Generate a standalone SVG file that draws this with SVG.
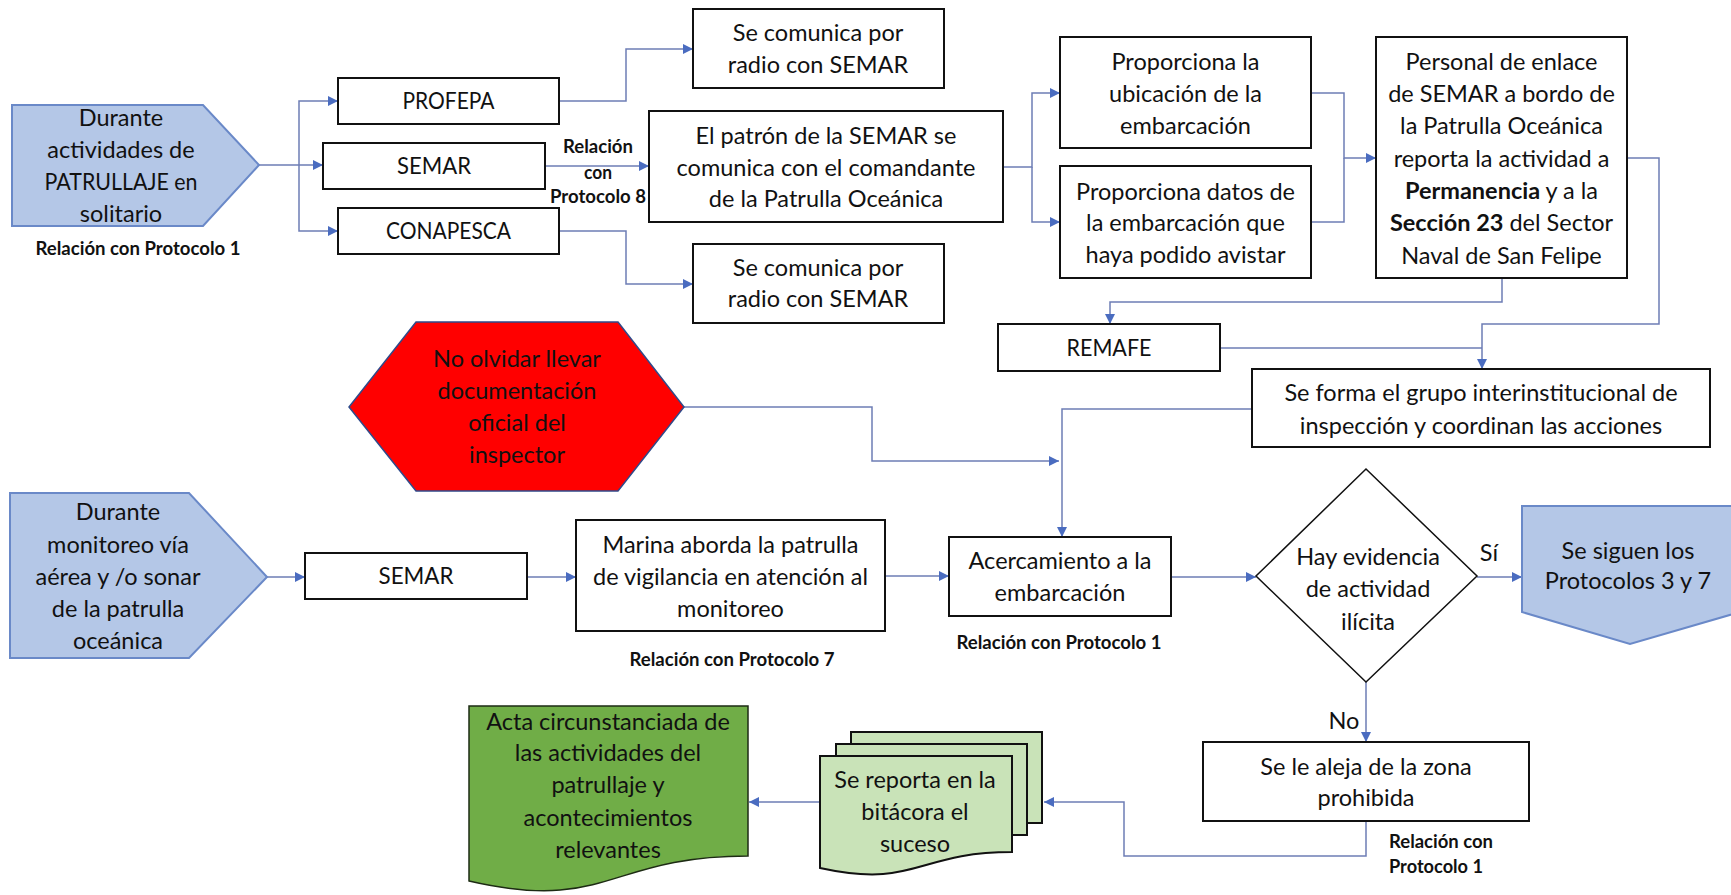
<svg xmlns="http://www.w3.org/2000/svg" width="1731" height="895" viewBox="0 0 1731 895">
<style>
.t{font-family:Lato,Carlito,"Liberation Sans",sans-serif;font-size:23.5px;fill:#111;text-anchor:middle}
.lb{font-family:Lato,Carlito,"Liberation Sans",sans-serif;font-size:19px;font-weight:bold;fill:#111;text-anchor:middle}
.box{fill:#fff;stroke:#111;stroke-width:2}
.blue{fill:#b4c7e7;stroke:#6a89c8;stroke-width:2}
.c{fill:none;stroke:#6d7db5;stroke-width:1.5}
.ca{fill:none;stroke:#6d7db5;stroke-width:1.5;marker-end:url(#ar)}
</style>
<defs>
<marker id="ar" markerUnits="userSpaceOnUse" markerWidth="11" markerHeight="10" refX="10" refY="5" orient="auto">
<path d="M0,0 L10,5 L0,10 z" fill="#4a6cc0"/>
</marker>
</defs>
<rect width="1731" height="895" fill="#fff"/>

<g id="connectors">
<path class="ca" d="M259,165 H323"/>
<path class="ca" d="M299,165 V101 H338"/>
<path class="ca" d="M299,165 V231 H338"/>
<path class="ca" d="M559,101 H626 V49 H693"/>
<path class="ca" d="M559,231 H626 V284 H693"/>
<path class="ca" d="M545,166 H649"/>
<path class="ca" d="M1003,167 H1032 V93 H1060"/>
<path class="ca" d="M1032,167 V222 H1060"/>
<path class="ca" d="M1311,93 H1344 V158 H1376"/>
<path class="c" d="M1311,222 H1344 V158"/>
<path class="ca" d="M1502,278 V302 H1110 V324"/>
<path class="ca" d="M1627,158 H1659 V324 H1482 V369"/>
<path class="c" d="M1220,348 H1482"/>
<path class="ca" d="M1252,409 H1062 V537"/>
<path class="ca" d="M684,407 H872 V461 H1059"/>
<path class="ca" d="M267,577 H305"/>
<path class="ca" d="M527,577 H576"/>
<path class="ca" d="M885,576 H949"/>
<path class="ca" d="M1171,577 H1256"/>
<path class="ca" d="M1477,577 H1522"/>
<path class="ca" d="M1366,682 V742"/>
<path class="ca" d="M1366,821 V856 H1124 V802 H1044"/>
<path class="ca" d="M820,802 H749"/>
</g>

<g id="start1">
<path class="blue" d="M12,105 H203 L259,165 L203,226 H12 Z"/>
<text class="t" x="121" y="126">Durante</text>
<text class="t" x="121" y="158">actividades de</text>
<text class="t" x="121" y="190" textLength="153" lengthAdjust="spacingAndGlyphs">PATRULLAJE en</text>
<text class="t" x="121" y="222">solitario</text>
</g>
<text id="lbl-p1a" class="lb" x="138" y="255" textLength="205" lengthAdjust="spacingAndGlyphs">Relación con Protocolo 1</text>

<g id="profepa">
<rect class="box" x="338" y="78" width="221" height="46"/>
<text class="t" x="448.5" y="109" textLength="92" lengthAdjust="spacingAndGlyphs">PROFEPA</text>
</g>
<g id="semar1">
<rect class="box" x="323" y="143" width="222" height="46"/>
<text class="t" x="434" y="174" textLength="74" lengthAdjust="spacingAndGlyphs">SEMAR</text>
</g>
<g id="conapesca">
<rect class="box" x="338" y="208" width="221" height="46"/>
<text class="t" x="448.5" y="239" textLength="125" lengthAdjust="spacingAndGlyphs">CONAPESCA</text>
</g>
<g id="lbl-p8">
<text class="lb" x="598" y="153" textLength="70" lengthAdjust="spacingAndGlyphs">Relación</text>
<text class="lb" x="598" y="179" textLength="28" lengthAdjust="spacingAndGlyphs">con</text>
<text class="lb" x="598" y="203" textLength="96" lengthAdjust="spacingAndGlyphs">Protocolo 8</text>
</g>

<g id="radio1">
<rect class="box" x="693" y="9" width="251" height="79"/>
<text class="t" x="818" y="41">Se comunica por</text>
<text class="t" x="818" y="73">radio con SEMAR</text>
</g>
<g id="patron">
<rect class="box" x="649" y="111" width="354" height="111"/>
<text class="t" x="826" y="144">El patrón de la SEMAR se</text>
<text class="t" x="826" y="176">comunica con el comandante</text>
<text class="t" x="826" y="207">de la Patrulla Oceánica</text>
</g>
<g id="radio2">
<rect class="box" x="693" y="244" width="251" height="79"/>
<text class="t" x="818" y="276">Se comunica por</text>
<text class="t" x="818" y="307">radio con SEMAR</text>
</g>

<g id="ubicacion">
<rect class="box" x="1060" y="37" width="251" height="111"/>
<text class="t" x="1185.5" y="70">Proporciona la</text>
<text class="t" x="1185.5" y="102">ubicación de la</text>
<text class="t" x="1185.5" y="134">embarcación</text>
</g>
<g id="datos">
<rect class="box" x="1060" y="166" width="251" height="112"/>
<text class="t" x="1185.5" y="200">Proporciona datos de</text>
<text class="t" x="1185.5" y="231">la embarcación que</text>
<text class="t" x="1185.5" y="263">haya podido avistar</text>
</g>
<g id="personal">
<rect class="box" x="1376" y="37" width="251" height="241"/>
<text class="t" x="1501.5" y="70">Personal de enlace</text>
<text class="t" x="1501.5" y="102">de SEMAR a bordo de</text>
<text class="t" x="1501.5" y="134">la Patrulla Oceánica</text>
<text class="t" x="1501.5" y="167">reporta la actividad a</text>
<text class="t" x="1501.5" y="199"><tspan font-weight="bold">Permanencia</tspan> y a la</text>
<text class="t" x="1501.5" y="231"><tspan font-weight="bold">Sección 23</tspan> del Sector</text>
<text class="t" x="1501.5" y="264">Naval de San Felipe</text>
</g>
<g id="remafe">
<rect class="box" x="998" y="324" width="222" height="47"/>
<text class="t" x="1109" y="356" textLength="85" lengthAdjust="spacingAndGlyphs">REMAFE</text>
</g>
<g id="grupo">
<rect class="box" x="1252" y="369" width="458" height="78"/>
<text class="t" x="1481" y="401">Se forma el grupo interinstitucional de</text>
<text class="t" x="1481" y="434">inspección y coordinan las acciones</text>
</g>

<g id="documentacion">
<path d="M416,322 H618 L684,407 L618,491 H416 L349,407 Z" fill="#ff0000" stroke="#2f4a8a" stroke-width="1.5"/>
<text class="t" x="517" y="367">No olvidar llevar</text>
<text class="t" x="517" y="399">documentación</text>
<text class="t" x="517" y="431">oficial del</text>
<text class="t" x="517" y="463">inspector</text>
</g>

<g id="start2">
<path class="blue" d="M10,493 H189 L267,577 L189,658 H10 Z"/>
<text class="t" x="118" y="520">Durante</text>
<text class="t" x="118" y="553">monitoreo vía</text>
<text class="t" x="118" y="585">aérea y /o sonar</text>
<text class="t" x="118" y="617">de la patrulla</text>
<text class="t" x="118" y="649">oceánica</text>
</g>
<g id="semar2">
<rect class="box" x="305" y="553" width="222" height="46"/>
<text class="t" x="416" y="584" textLength="75" lengthAdjust="spacingAndGlyphs">SEMAR</text>
</g>
<g id="marina">
<rect class="box" x="576" y="520" width="309" height="111"/>
<text class="t" x="730.5" y="553">Marina aborda la patrulla</text>
<text class="t" x="730.5" y="585">de vigilancia en atención al</text>
<text class="t" x="730.5" y="617">monitoreo</text>
</g>
<text id="lbl-p7" class="lb" x="732" y="666" textLength="205" lengthAdjust="spacingAndGlyphs">Relación con Protocolo 7</text>

<g id="acercamiento">
<rect class="box" x="949" y="537" width="222" height="79"/>
<text class="t" x="1060" y="569">Acercamiento a la</text>
<text class="t" x="1060" y="601">embarcación</text>
</g>
<text id="lbl-p1b" class="lb" x="1059" y="649" textLength="205" lengthAdjust="spacingAndGlyphs">Relación con Protocolo 1</text>

<g id="decision">
<path d="M1366,469 L1477,576 L1366,682 L1256,576 Z" fill="#fff" stroke="#111" stroke-width="1.5"/>
<text class="t" x="1368" y="565">Hay evidencia</text>
<text class="t" x="1368" y="597">de actividad</text>
<text class="t" x="1368" y="630">ilícita</text>
</g>
<text id="lbl-si" class="t" x="1489" y="561">Sí</text>
<text id="lbl-no" class="t" x="1344" y="729">No</text>

<g id="protocolos37">
<path class="blue" d="M1522,506 H1740 V612 L1630,644 L1522,612 Z"/>
<text class="t" x="1628" y="559">Se siguen los</text>
<text class="t" x="1628" y="589">Protocolos 3 y 7</text>
</g>

<g id="aleja">
<rect class="box" x="1203" y="742" width="326" height="79"/>
<text class="t" x="1366" y="775">Se le aleja de la zona</text>
<text class="t" x="1366" y="806">prohibida</text>
</g>
<g id="lbl-p1c">
<text class="lb" x="1389" y="848" style="text-anchor:start" textLength="104" lengthAdjust="spacingAndGlyphs">Relación con</text>
<text class="lb" x="1389" y="873" style="text-anchor:start" textLength="94" lengthAdjust="spacingAndGlyphs">Protocolo 1</text>
</g>

<g id="bitacora">
<rect x="851" y="732" width="191" height="91" fill="#c9e3b8" stroke="#111" stroke-width="2"/>
<rect x="836" y="744" width="191" height="91" fill="#c9e3b8" stroke="#111" stroke-width="2"/>
<path d="M820,756 H1012 V852 C916,852 916,889 820,868 Z" fill="#c9e3b8" stroke="#111" stroke-width="2"/>
<text class="t" x="915" y="788">Se reporta en la</text>
<text class="t" x="915" y="820">bitácora el</text>
<text class="t" x="915" y="852">suceso</text>
</g>

<g id="acta">
<path d="M469,706 H748 V856 C608,856 608,913 469,881 Z" fill="#70ad47" stroke="#1d2b14" stroke-width="1.5"/>
<text class="t" x="608" y="730">Acta circunstanciada de</text>
<text class="t" x="608" y="761">las actividades del</text>
<text class="t" x="608" y="793">patrullaje y</text>
<text class="t" x="608" y="826">acontecimientos</text>
<text class="t" x="608" y="858">relevantes</text>
</g>
</svg>
